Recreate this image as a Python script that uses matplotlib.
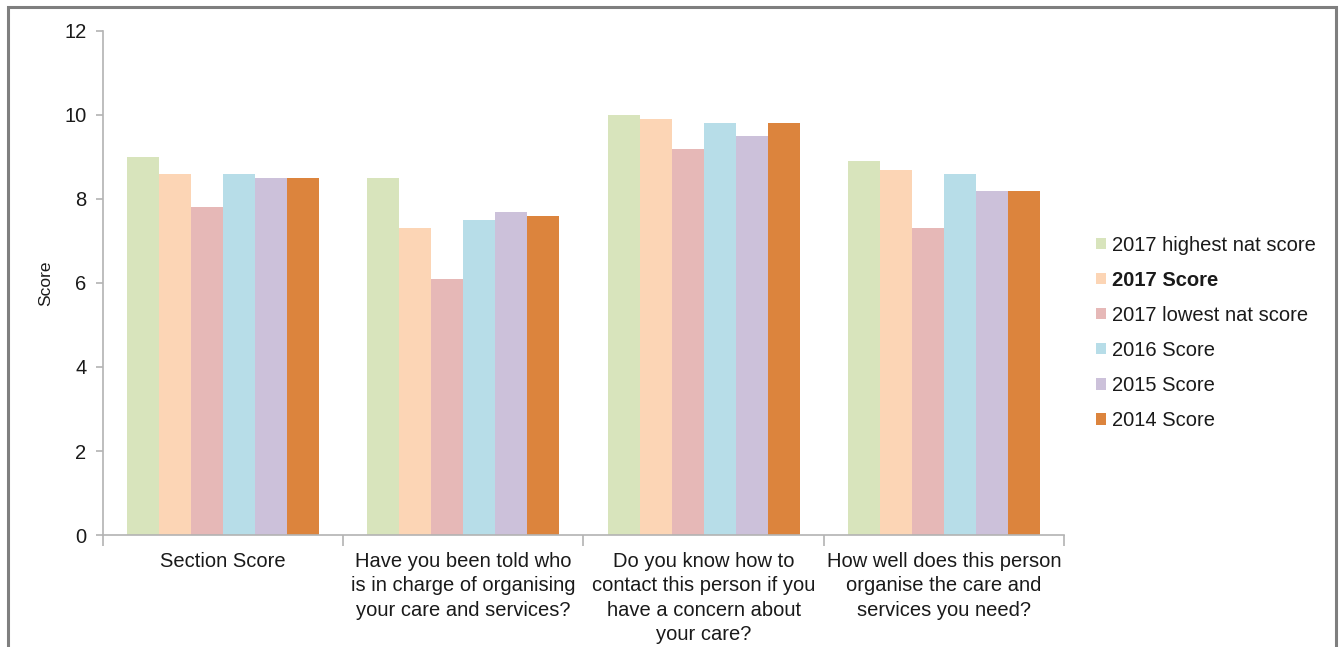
import matplotlib.pyplot as plt
import numpy as np
from matplotlib.patches import Rectangle

plt.rcParams["font.family"] = ["Liberation Sans", "DejaVu Sans"]

categories = [
    "Section Score",
    "Have you been told who\nis in charge of organising\nyour care and services?",
    "Do you know how to\ncontact this person if you\nhave a concern about\nyour care?",
    "How well does this person\norganise the care and\nservices you need?",
]
series_names = ["2017 highest nat score", "2017 Score", "2017 lowest nat score",
                "2016 Score", "2015 Score", "2014 Score"]
highest_2017 = [9.0, 8.5, 10.0, 8.9]
score_2017 = [8.6, 7.3, 9.9, 8.7]
lowest_2017 = [7.8, 6.1, 9.2, 7.3]
score_2016 = [8.6, 7.5, 9.8, 8.6]
score_2015 = [8.5, 7.7, 9.5, 8.2]
score_2014 = [8.5, 7.6, 9.8, 8.2]
series = [highest_2017, score_2017, lowest_2017, score_2016, score_2015, score_2014]
colors = ["#d8e4bc", "#fcd5b5", "#e6b8b7", "#b7dde8", "#ccc1da", "#dc843d"]

fig = plt.figure(figsize=(13.44, 6.47), dpi=100)
ax = fig.add_axes([0.0766, 0.1731, 0.7151, 0.779])

x = np.arange(len(categories))
w = 0.8 / 6
for i, (vals, name, c) in enumerate(zip(series, series_names, colors)):
    ax.bar(x - 0.4 + w * (i + 0.5), vals, w, color=c, label=name,
           edgecolor="none")

AX_GREY = "#b3b3b3"
TXT = "#1a1a1a"
ax.set_xlim(-0.5, len(categories) - 0.5)
ax.set_ylim(0, 12)
ax.set_yticks(range(0, 13, 2))
ax.set_xticks(x)
ax.set_xticklabels(categories, fontsize=14.5, color=TXT, linespacing=1.34)
ax.set_xticks(np.arange(-0.5, len(categories)), minor=True)
ax.tick_params(axis="x", which="major", length=0, pad=12.5)
ax.tick_params(axis="x", which="minor", length=8, width=1.2, color=AX_GREY,
               direction="out")
ax.tick_params(axis="y", length=5, width=1.2, color=AX_GREY, labelsize=14.5,
               pad=7, labelcolor=TXT)
for s in ["top", "right"]:
    ax.spines[s].set_visible(False)
for s in ["left", "bottom"]:
    ax.spines[s].set_color(AX_GREY)
    ax.spines[s].set_linewidth(1.2)
ax.set_ylabel("Score", fontsize=12.5, labelpad=8, color=TXT)

leg = fig.legend(loc="upper left", bbox_to_anchor=(0.8018, 0.664),
                 frameon=False, fontsize=14.5, handlelength=0.5,
                 handleheight=0.5, handletextpad=0.3, labelspacing=0.8)
for t in leg.get_texts():
    t.set_color(TXT)
leg.get_texts()[1].set_fontweight("bold")

fig.patches.append(Rectangle((8 / 1344, -0.1), 1328 / 1344, 1.1 - 7 / 647,
                             transform=fig.transFigure, fill=False,
                             edgecolor="#7f7f7f", linewidth=2.2))

fig.savefig("out.png", dpi=100, facecolor="white")
